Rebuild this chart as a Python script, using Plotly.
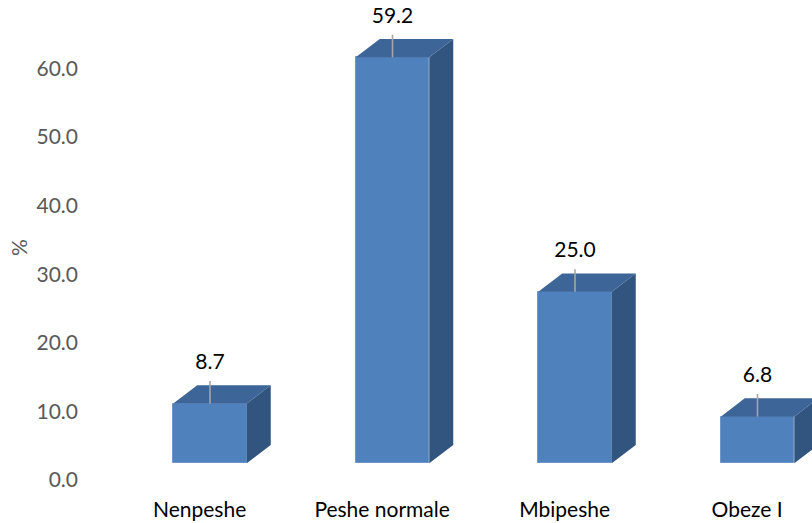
import plotly.graph_objects as go

# Data
categories = ["Nenpeshe", "Peshe normale", "Mbipeshe", "Obeze I"]
values = [8.7, 59.2, 25.0, 6.8]
y_ticks = [0, 10, 20, 30, 40, 50, 60]

# Pseudo-3D column geometry (in axis units)
FRONT_BASE = 2.44   # front face sits slightly above the back-wall zero
HALF_W = 0.2014     # half width of the front face (category units)
DEPTH_X = 0.1315    # depth offset to the right
DEPTH_Y = 2.67      # depth offset upward
LEADER = 3.3        # leader line length above the column
LABEL_GAP = 2.5     # value text above the leader line

FRONT = "#4F81BD"
TOP = "#3D6598"
SIDE = "#325580"
FONT = "Lato"

xs = list(range(len(categories)))

top_x, top_y, side_x, side_y = [], [], [], []
lead_x, lead_y = [], []
for i, v in zip(xs, values):
    t = FRONT_BASE + v
    top_x += [i - HALF_W, i + HALF_W, i + HALF_W + DEPTH_X, i - HALF_W + DEPTH_X, i - HALF_W, None]
    top_y += [t, t, t + DEPTH_Y, t + DEPTH_Y, t, None]
    side_x += [i + HALF_W, i + HALF_W, i + HALF_W + DEPTH_X, i + HALF_W + DEPTH_X, i + HALF_W, None]
    side_y += [FRONT_BASE, t, t + DEPTH_Y, FRONT_BASE + DEPTH_Y, FRONT_BASE, None]
    lead_x += [i, i, None]
    lead_y += [t, t + LEADER, None]

fig = go.Figure()

fig.add_trace(go.Scatter(x=side_x, y=side_y, mode="lines", fill="toself",
                         fillcolor=SIDE, line=dict(width=0, color=SIDE),
                         hoverinfo="skip", showlegend=False))
fig.add_trace(go.Scatter(x=top_x, y=top_y, mode="lines", fill="toself",
                         fillcolor=TOP, line=dict(width=0, color=TOP),
                         hoverinfo="skip", showlegend=False))
fig.add_trace(go.Bar(x=xs, y=values, base=FRONT_BASE, width=2 * HALF_W,
                     marker=dict(color=FRONT, line=dict(color="#6F96C8", width=1)),
                     showlegend=False, hoverinfo="skip"))
fig.add_trace(go.Scatter(x=lead_x, y=lead_y, mode="lines",
                         line=dict(color="#A6A6A6", width=1.6),
                         hoverinfo="skip", showlegend=False))
fig.add_trace(go.Scatter(x=xs, y=[FRONT_BASE + v + LEADER + LABEL_GAP for v in values],
                         mode="text", text=[f"{v:.1f}" for v in values],
                         textfont=dict(family=FONT, size=21, color="#000000"),
                         hoverinfo="skip", showlegend=False, cliponaxis=False))

fig.update_layout(
    width=812, height=523,
    margin=dict(l=90, r=0, t=0, b=28),
    paper_bgcolor="white", plot_bgcolor="white",
    bargap=0,
    xaxis=dict(range=[-0.6575, 3.2986], showgrid=False, zeroline=False,
               showline=False, ticks="",
               tickvals=[i - 0.057 for i in xs], ticktext=categories,
               tickfont=dict(family=FONT, size=21, color="#000000")),
    yaxis=dict(range=[-2.19, 70.0], showgrid=False, zeroline=False,
               showline=False, ticks="", tickvals=y_ticks,
               ticktext=[f"{t:.1f}" for t in y_ticks],
               ticklabelstandoff=11,
               tickfont=dict(family=FONT, size=21, color="#595959"),
               title=dict(text="%", standoff=3,
                          font=dict(family=FONT, size=21, color="#595959"))),
)

fig.write_html("out.html")
